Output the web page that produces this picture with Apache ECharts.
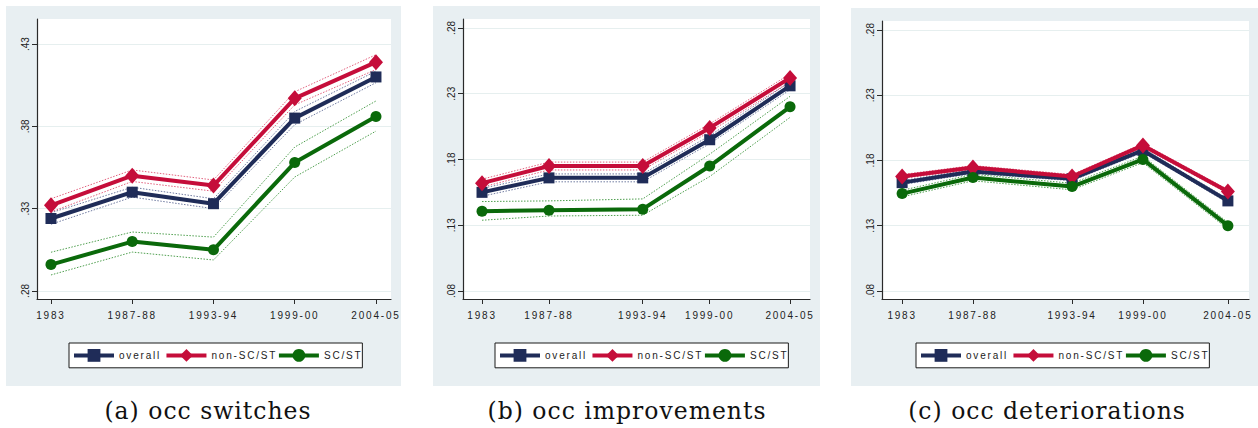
<!DOCTYPE html>
<html>
<head>
<meta charset="utf-8">
<script src="https://cdn.jsdelivr.net/npm/echarts@6/dist/echarts.min.js"></script>
<style>
  html, body { margin: 0; padding: 0; background: #ffffff; }
  #chart { width: 1258px; height: 428px; }
  /* Stata-style tracked lettering for tick and legend labels */
  #chart text[style*="Liberation Sans"] { letter-spacing: 1.8px; }
  #chart text[style*="DejaVu Serif"] { letter-spacing: 1px; }
</style>
</head>
<body>
<div id="chart"></div>
<script>
// Survey rounds and their labels
const periodLabels = ['1983', '1987-88', '1993-94', '1999-00', '2004-05'];
const evenX = [1, 2, 3, 4, 5];          // panel (a): evenly spaced rounds
const roundX = [38, 43, 50, 55, 61];    // panels (b), (c): NSS round numbers

// (a) occupation switches
const switchOverall   = [0.324, 0.340, 0.333, 0.385, 0.410];
const switchOverallHi = [0.3275, 0.343, 0.336, 0.389, 0.4135];
const switchOverallLo = [0.3205, 0.337, 0.330, 0.381, 0.4065];
const switchNonSc     = [0.332, 0.350, 0.344, 0.397, 0.419];
const switchNonScHi   = [0.336, 0.3535, 0.3474, 0.401, 0.4235];
const switchNonScLo   = [0.328, 0.3465, 0.3406, 0.393, 0.4145];
const switchSc        = [0.296, 0.310, 0.305, 0.358, 0.386];
const switchScHi      = [0.3035, 0.3158, 0.3127, 0.3674, 0.3954];
const switchScLo      = [0.2897, 0.3036, 0.2988, 0.3492, 0.3771];

// (b) occupation improvements
const improveOverall   = [0.155, 0.166, 0.166, 0.195, 0.236];
const improveOverallHi = [0.158, 0.169, 0.169, 0.198, 0.239];
const improveOverallLo = [0.152, 0.163, 0.163, 0.192, 0.233];
const improveNonSc     = [0.162, 0.175, 0.175, 0.204, 0.242];
const improveNonScHi   = [0.165, 0.178, 0.178, 0.207, 0.245];
const improveNonScLo   = [0.159, 0.172, 0.172, 0.201, 0.239];
const improveSc        = [0.1406, 0.1414, 0.1422, 0.175, 0.220];
const improveScHi      = [0.148, 0.1485, 0.150, 0.184, 0.228];
const improveScLo      = [0.1338, 0.1370, 0.1376, 0.167, 0.212];

// (c) occupation deteriorations
const deterOverall   = [0.163, 0.1715, 0.166, 0.1877, 0.149];
const deterOverallHi = [0.1645, 0.173, 0.1675, 0.1892, 0.1505];
const deterOverallLo = [0.1615, 0.170, 0.1645, 0.1862, 0.1475];
const deterNonSc     = [0.1677, 0.1746, 0.1677, 0.1915, 0.1562];
const deterNonScHi   = [0.1692, 0.1761, 0.1692, 0.1930, 0.1577];
const deterNonScLo   = [0.1662, 0.1731, 0.1662, 0.1900, 0.1547];
const deterSc        = [0.1546, 0.1669, 0.160, 0.1808, 0.130];
const deterScHi      = [0.1571, 0.1694, 0.1625, 0.1833, 0.1325];
const deterScLo      = [0.1521, 0.1644, 0.1575, 0.1783, 0.1275];

const yTicksA = [0.28, 0.33, 0.38, 0.43];
const yTicksBC = [0.08, 0.13, 0.18, 0.23, 0.28];

const groupNames = ['overall', 'non-SC/ST', 'SC/ST'];
const captions = ['(a) occ switches', '(b) occ improvements', '(c) occ deteriorations'];

const colors = { overall: '#1f2c58', nonSc: '#c50d3a', sc: '#0a690a' };
const ciColors = { overall: '#6f7aa0', nonSc: '#e2627f', sc: '#4f9f4f' };
const symbols = { overall: 'rect', nonSc: 'diamond', sc: 'circle' };
const symbolSizes = { overall: 11, nonSc: [14, 16], sc: 11 };

const panels = [
  { xs: evenX, xMin: 0.828, xMax: 5.185, yMin: 0.2751, yMax: 0.4452, yTicks: yTicksA,
    grid: { left: 37, top: 19, width: 354, height: 280 },
    frame: { x: 6, y: 6, width: 395, height: 380 },
    legendLeft: 69, captionX: 208,
    sets: { overall: [switchOverall, switchOverallHi, switchOverallLo],
            nonSc: [switchNonSc, switchNonScHi, switchNonScLo],
            sc: [switchSc, switchScHi, switchScLo] } },
  { xs: roundX, xMin: 36.58, xMax: 62.49, yMin: 0.0739, yMax: 0.2868, yTicks: yTicksBC,
    grid: { left: 463, top: 19, width: 347, height: 280 },
    frame: { x: 433, y: 6, width: 387, height: 380 },
    legendLeft: 495, captionX: 627,
    sets: { overall: [improveOverall, improveOverallHi, improveOverallLo],
            nonSc: [improveNonSc, improveNonScHi, improveNonScLo],
            sc: [improveSc, improveScHi, improveScLo] } },
  { xs: roundX, xMin: 36.58, xMax: 62.49, yMin: 0.0738, yMax: 0.2869, yTicks: yTicksBC,
    grid: { left: 882, top: 21, width: 367, height: 278 },
    frame: { x: 851, y: 8, width: 407, height: 378 },
    legendLeft: 916, captionX: 1047,
    sets: { overall: [deterOverall, deterOverallHi, deterOverallLo],
            nonSc: [deterNonSc, deterNonScHi, deterNonScLo],
            sc: [deterSc, deterScHi, deterScLo] } }
];

const keys = ['overall', 'nonSc', 'sc'];
const pairs = (xs, ys) => xs.map((x, i) => [x, ys[i]]);

const grids = [], xAxes = [], yAxes = [], series = [], legends = [], graphics = [];

panels.forEach((p, k) => {
  graphics.push({ type: 'rect', z: -10, shape: p.frame, style: { fill: '#e8eff2' }, silent: true });
  graphics.push({ type: 'text', x: p.captionX, y: 411, z: 10, style: {
    text: captions[k], font: '23.5px "DejaVu Serif"', fill: '#111', align: 'center', verticalAlign: 'middle' } });

  grids.push(Object.assign({ show: true, backgroundColor: '#ffffff', borderWidth: 0 }, p.grid));

  const labelOf = v => periodLabels[p.xs.indexOf(v)];
  xAxes.push({
    type: 'value', gridIndex: k, min: p.xMin, max: p.xMax,
    axisLine: { show: true, onZero: false, lineStyle: { color: '#2a2a2a', width: 1.2 } },
    axisTick: { show: true, inside: false, length: 5, customValues: p.xs, lineStyle: { color: '#2a2a2a' } },
    axisLabel: { customValues: p.xs, formatter: labelOf, margin: 11, fontSize: 10,
                 fontFamily: 'Liberation Sans', color: '#222' },
    splitLine: { show: false }
  });
  yAxes.push({
    type: 'value', gridIndex: k, min: p.yMin, max: p.yMax,
    axisLine: { show: true, lineStyle: { color: '#2a2a2a', width: 1.2 } },
    axisTick: { show: true, inside: false, length: 5, customValues: p.yTicks, lineStyle: { color: '#2a2a2a' } },
    axisLabel: { customValues: p.yTicks, rotate: 90, margin: 7, fontSize: 10, fontFamily: 'Arial', color: '#222',
                 formatter: v => v.toFixed(2).replace(/^0/, '') },
    splitLine: { show: true, lineStyle: { color: '#e6efef', width: 1 } }
  });

  keys.forEach((key, j) => {
    const [mid, hi, lo] = p.sets[key];
    [hi, lo].forEach((band, b) => series.push({
      type: 'line', name: groupNames[j] + (b ? ' lower' : ' upper'), xAxisIndex: k, yAxisIndex: k,
      data: pairs(p.xs, band), symbol: 'none', silent: true, z: 2,
      lineStyle: { width: 1, type: [1.5, 1.5], color: ciColors[key] }
    }));
  });
  keys.forEach((key, j) => {
    series.push({
      type: 'line', name: groupNames[j], xAxisIndex: k, yAxisIndex: k,
      data: pairs(p.xs, p.sets[key][0]), symbol: symbols[key], symbolSize: symbolSizes[key],
      z: 3 + j, lineStyle: { width: 4, color: colors[key] }, itemStyle: { color: colors[key] }
    });
  });

  // item gap and right padding leave room for the tracked legend lettering
  legends.push({
    left: p.legendLeft, top: 343, orient: 'horizontal',
    data: groupNames,
    itemWidth: 40, itemHeight: 16, itemGap: 16,
    padding: [6, 9, 6, 3], borderColor: '#1a1a1a', borderWidth: 1, backgroundColor: '#ffffff',
    lineStyle: { width: 4 },
    textStyle: { fontSize: 10, fontFamily: 'Liberation Sans', color: '#222' },
    selectedMode: false
  });
});

const chart = echarts.init(document.getElementById('chart'), null, { renderer: 'svg' });
chart.setOption({
  animation: false,
  grid: grids, xAxis: xAxes, yAxis: yAxes, series: series, legend: legends,
  graphic: { elements: graphics }
});
</script>
</body>
</html>
